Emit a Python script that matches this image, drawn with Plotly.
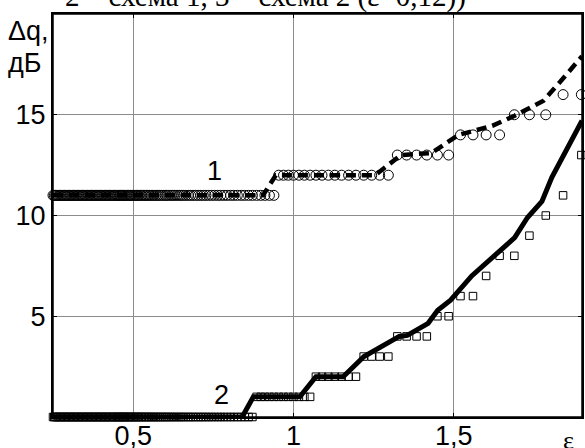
import plotly.graph_objects as go

# ---- data ----
# sample grid of epsilon values where the markers sit
eps_grid = [
    0.250, 0.254, 0.258, 0.262, 0.266, 0.270, 0.274, 0.278, 0.282, 0.286,
    0.290, 0.294, 0.298, 0.302, 0.306, 0.310, 0.314, 0.318, 0.322, 0.326,
    0.330, 0.334, 0.338, 0.342, 0.346, 0.350, 0.354, 0.358, 0.362, 0.366,
    0.370, 0.374, 0.378, 0.382, 0.386, 0.390, 0.394, 0.398, 0.402, 0.406,
    0.410, 0.414, 0.418, 0.422, 0.426, 0.430, 0.434, 0.438, 0.442, 0.446,
    0.450, 0.453, 0.457, 0.460, 0.464, 0.467, 0.471, 0.474, 0.478, 0.482,
    0.486, 0.490, 0.493, 0.497, 0.502, 0.506, 0.510, 0.514, 0.518, 0.523,
    0.527, 0.532, 0.537, 0.541, 0.546, 0.551, 0.556, 0.561, 0.566, 0.572,
    0.577, 0.582, 0.588, 0.594, 0.600, 0.605, 0.611, 0.618, 0.624, 0.630,
    0.637, 0.644, 0.650, 0.657, 0.664, 0.672, 0.679, 0.687, 0.695, 0.703,
    0.711, 0.719, 0.727, 0.736, 0.745, 0.754, 0.764, 0.773, 0.783, 0.793,
    0.804, 0.814, 0.825, 0.837, 0.848, 0.860, 0.872, 0.885, 0.898, 0.911,
    0.925, 0.939, 0.954, 0.969, 0.984, 1.000, 1.017, 1.034, 1.052, 1.070,
    1.089, 1.109, 1.129, 1.150, 1.172, 1.195, 1.219, 1.244, 1.269, 1.296,
    1.324, 1.353, 1.384, 1.416, 1.449, 1.484, 1.521, 1.560, 1.601, 1.643,
    1.689, 1.736, 1.787, 1.841, 1.898,
]

# circles (curve 1 samples): step levels and the eps where each level starts
circle_levels = [11, 12, 13, 14, 15, 16]
circle_starts = [0.25, 0.95, 1.31, 1.50, 1.67, 1.82]

# squares (curve 2 samples)
square_levels = [0, 1, 2, 3, 4, 5, 6, 7, 8, 9, 10, 11, 13]
square_starts = [0.25, 0.88, 1.06, 1.21, 1.31, 1.43, 1.50, 1.58, 1.62, 1.71, 1.76, 1.82, 1.87]

# dashed curve 1
line1_x = [0.25, 0.905, 0.945, 1.255, 1.335, 1.43, 1.515, 1.62, 1.69, 1.78, 1.83, 1.90]
line1_y = [11, 11, 12, 12, 13, 13.1, 14.0, 14.45, 14.95, 15.7, 16.6, 17.9]

# solid curve 2
line2_x = [0.25, 0.84, 0.875, 1.02, 1.07, 1.155, 1.22, 1.33, 1.355, 1.42, 1.45, 1.49,
           1.556, 1.62, 1.69, 1.73, 1.775, 1.806, 1.90]
line2_y = [0, 0, 1, 1, 2, 2, 3, 4, 4.05, 4.65, 5.3, 5.8,
           7.0, 7.9, 8.9, 9.9, 10.7, 11.9, 14.7]

x_tickvals = [0.5, 1.0, 1.5]
x_ticktext = ["0,5", "1", "1,5"]
y_tickvals = [5, 10, 15]
y_ticktext = ["5", "10", "15"]

title_text = "2 \u2013 схема 1, 3 \u2013 схема 2 (ε=0,12))"


def step_lookup(xs, starts, levels):
    out = []
    for x in xs:
        lv = levels[0]
        for s, l in zip(starts, levels):
            if x >= s - 1e-9:
                lv = l
        out.append(lv)
    return out


circle_y = step_lookup(eps_grid, circle_starts, circle_levels)
square_y = step_lookup(eps_grid, square_starts, square_levels)

SANS = "Liberation Sans, Arial, sans-serif"
SERIF = "Liberation Serif, Times New Roman, serif"

fig = go.Figure()
fig.add_trace(go.Scatter(x=eps_grid, y=circle_y, mode="markers", cliponaxis=False,
                         marker=dict(symbol="circle-open", size=10, color="black",
                                     line=dict(width=1, color="black")),
                         showlegend=False))
fig.add_trace(go.Scatter(x=eps_grid, y=square_y, mode="markers", cliponaxis=False,
                         marker=dict(symbol="square-open", size=7.5, color="black",
                                     line=dict(width=1, color="black")),
                         showlegend=False))
fig.add_trace(go.Scatter(x=line1_x, y=line1_y, mode="lines",
                         line=dict(color="black", width=4.5, dash="10px,6px"),
                         showlegend=False))
fig.add_trace(go.Scatter(x=line2_x, y=line2_y, mode="lines",
                         line=dict(color="black", width=5),
                         showlegend=False))

axis_common = dict(showline=True, linecolor="black", linewidth=2, mirror="ticks",
                   ticks="inside", ticklen=4, tickcolor="black", tickwidth=1,
                   showgrid=True, gridcolor="#8c8c8c", gridwidth=1, zeroline=False,
                   automargin=False,
                   tickfont=dict(family=SANS, size=27, color="black"))

fig.update_xaxes(range=[0.25, 1.9], tickmode="array", tickvals=x_tickvals,
                 ticktext=x_ticktext, ticklabelstandoff=-6, **axis_common)
fig.update_yaxes(range=[0, 20], tickmode="array", tickvals=y_tickvals,
                 ticktext=y_ticktext, **axis_common)

# plot frame
fig.add_shape(type="rect", xref="paper", yref="paper", x0=0, x1=1, y0=0, y1=1,
              line=dict(color="black", width=1.5), layer="below")

fig.add_annotation(text=title_text, xref="paper", yref="paper", x=0.0189, y=0.9975,
                   xanchor="left", yanchor="bottom", showarrow=False,
                   font=dict(family=SERIF, size=29, color="black"))
fig.add_annotation(text="Δq,", xref="paper", yref="paper", x=-0.089, y=0.9566,
                   xanchor="left", yanchor="middle", showarrow=False,
                   font=dict(family=SANS, size=27, color="black"))
fig.add_annotation(text="дБ", xref="paper", yref="paper", x=-0.089, y=0.8772,
                   xanchor="left", yanchor="middle", showarrow=False,
                   font=dict(family=SANS, size=27, color="black"))
fig.add_annotation(text="1", x=0.754, y=12.2, xref="x", yref="y", showarrow=False,
                   xanchor="center", yanchor="middle",
                   font=dict(family=SANS, size=27, color="black"))
fig.add_annotation(text="2", x=0.775, y=1.1, xref="x", yref="y", showarrow=False,
                   xanchor="center", yanchor="middle",
                   font=dict(family=SANS, size=27, color="black"))
fig.add_annotation(text="ε", xref="paper", yref="paper", x=0.975, y=-0.058,
                   xanchor="center", yanchor="middle", showarrow=False,
                   font=dict(family=SERIF, size=26, color="black"))

fig.update_layout(width=585, height=448, margin=dict(l=53, r=3, t=14, b=31),
                  plot_bgcolor="white", paper_bgcolor="white")

fig.write_html("out.html", config={"displayModeBar": False},
               post_script="document.body.style.margin='0';document.body.style.overflow='hidden';")
